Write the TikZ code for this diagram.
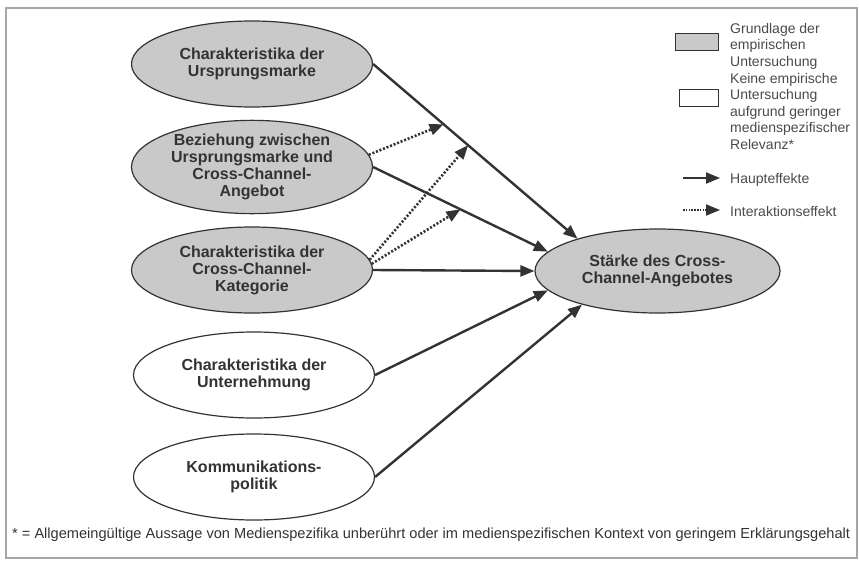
\documentclass[tikz,border=0pt]{standalone}
\usepackage{fontspec}
\setmainfont{Liberation Sans}
\usetikzlibrary{arrows.meta,shapes.geometric}
\definecolor{ink}{HTML}{333333}
\definecolor{soft}{HTML}{4A4A4A}
\definecolor{shade}{HTML}{C9C9C9}
\begin{document}
\begin{tikzpicture}[x=1pt,y=-1pt,
  ell/.style={ellipse,draw=ink,line width=1.2pt,minimum width=241pt,minimum height=86pt,inner sep=0pt,align=center,text=ink,font=\fontsize{16}{17}\selectfont\bfseries},
  basis/.style={ell,fill=shade},
  nobasis/.style={ell,fill=white},
  main/.style={draw=ink,line width=2.4pt,-{Triangle[length=14pt,width=11pt]}},
  inter/.style={draw=ink,line width=2.6pt,dash pattern=on 2pt off 1.8pt,-{Triangle[length=14pt,width=11pt]}},
  legtext/.style={anchor=north west,inner sep=0pt,align=left,text=soft,font=\fontsize{14}{16.5}\selectfont},
  legbox/.style={draw=ink,line width=0.9pt,minimum height=17pt,inner sep=0pt},
]
\useasboundingbox (0,0) rectangle (859,562);
\draw[gray!70,line width=1.2pt] (6,8) rectangle (857,558);

% source ellipses
\node[basis] (e1) at (252,64) {Charakteristika der\\Ursprungsmarke};
\node[basis] (e2) at (252,167) {Beziehung zwischen\\Ursprungsmarke und\\Cross-Channel-\\Angebot};
\node[basis] (e3) at (252,270) {Charakteristika der\\Cross-Channel-\\Kategorie};
\node[nobasis] (e4) at (254,375) {Charakteristika der\\Unternehmung};
\node[nobasis] (e5) at (254,477) {Kommunikations-\\politik};

% target
\node[basis,minimum width=245pt,minimum height=84pt] (t) at (657.5,271) {St\"arke des Cross-\\Channel-Angebotes};

% main effects
\draw[main] (e1.east) -- coordinate[pos=0.345] (c1) coordinate[pos=0.465] (c2) (t.158);
\draw[main] (e2.east) -- coordinate[pos=0.5] (c3) (t.170);
\draw[main] (e3.east) -- (t.180);
\draw[main] (e4.east) -- (t.190);
\draw[main] (e5.east) -- (t.204);

% interaction effects
\draw[inter] (e2.6) -- (c1);
\draw[inter] (e3.5) -- (c2);
\draw[inter] (e3.3) -- (c3);

% legend
\node[legbox,fill=shade,minimum width=43pt] (lb1) at (696.5,41.5) {};
\node[legtext] (lt1) at (730,23) {Grundlage der\\empirischen\\Untersuchung};
\node[legbox,fill=white,minimum width=39pt] (lb2) at (698.5,98) {};
\node[legtext] (lt2) at (730,73) {Keine empirische\\Untersuchung\\aufgrund geringer\\medienspezifischer\\Relevanz*};
\coordinate (la1) at (683,178);
\coordinate (la2) at (720,178);
\draw[main,line width=2pt] (la1) -- (la2);
\node[legtext,anchor=west] (lt3) at (730,180) {Haupteffekte};
\coordinate (lb1s) at (683,210);
\coordinate (lb1e) at (720,210);
\draw[inter,line width=1.8pt,dash pattern=on 1.5pt off 1.3pt] (lb1s) -- (lb1e);
\node[legtext,anchor=west] (lt4) at (730,211) {Interaktionseffekt};

% footnote
\node[anchor=base west,inner sep=0pt,text=ink,font=\fontsize{14.6}{16}\selectfont] (fn) at (12,538) {* = Allgemeing\"ultige Aussage von Medienspezifika unber\"uhrt oder im medienspezifischen Kontext von geringem Erkl\"arungsgehalt};
\end{tikzpicture}
\end{document}
